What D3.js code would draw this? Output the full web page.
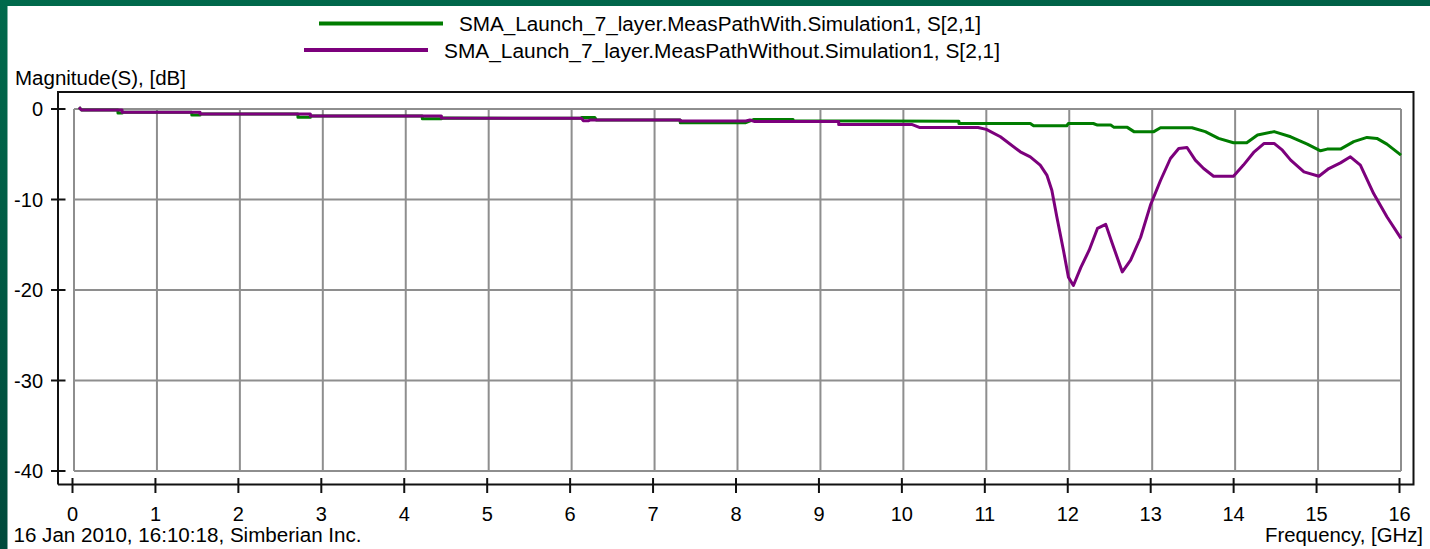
<!DOCTYPE html>
<html>
<head>
<meta charset="utf-8">
<script src="https://cdn.jsdelivr.net/npm/d3@7"></script>
<style>
  body { margin: 0; overflow: hidden; }
  text { font-family: "Liberation Sans", Arial, sans-serif; fill: #000; }
</style>
</head>
<body>
<div id="chart"></div>
<script>
// tick values
const xTicks = [0, 1, 2, 3, 4, 5, 6, 7, 8, 9, 10, 11, 12, 13, 14, 15, 16];
const yTicks = [0, -10, -20, -30, -40];

// [frequency GHz, magnitude dB]
const pathWith = [
  [0.06, 0.2], [0.09, -0.1], [0.53, -0.1], [0.53, -0.45], [0.58, -0.45], [0.58, -0.37],
  [1.42, -0.37], [1.42, -0.65], [1.52, -0.65], [1.52, -0.55], [2.7, -0.55], [2.7, -0.92],
  [2.85, -0.92], [2.85, -0.78], [4.2, -0.78], [4.2, -1.07], [4.43, -1.07], [4.43, -1.0],
  [6.12, -1.03], [6.12, -0.95], [6.28, -0.95], [6.3, -1.22], [7.31, -1.22], [7.31, -1.51],
  [8.1, -1.51], [8.2, -1.15], [8.67, -1.15], [8.67, -1.3], [10.67, -1.35], [10.67, -1.6],
  [11.53, -1.6], [11.57, -1.85], [11.97, -1.85], [11.99, -1.6], [12.29, -1.6], [12.34, -1.78],
  [12.5, -1.78], [12.54, -2.03], [12.7, -2.03], [12.78, -2.5], [13.02, -2.5], [13.1, -2.07],
  [13.48, -2.07], [13.64, -2.5], [13.8, -3.25], [13.98, -3.73], [14.14, -3.73], [14.27, -2.88],
  [14.47, -2.5], [14.67, -3.07], [14.87, -3.88], [15.03, -4.62], [15.11, -4.43], [15.27, -4.43],
  [15.43, -3.6], [15.59, -3.14], [15.71, -3.25], [15.83, -3.88], [16.0, -5.1]
];

const pathWithout = [
  [0.06, 0.2], [0.09, -0.1], [0.58, -0.1], [0.58, -0.37], [1.52, -0.37], [1.52, -0.55],
  [2.85, -0.55], [2.85, -0.78], [4.43, -0.78], [4.43, -1.0], [6.12, -1.03], [6.14, -1.3],
  [6.2, -1.3], [6.22, -1.22], [7.31, -1.22], [7.31, -1.32], [8.1, -1.32], [8.15, -1.22],
  [8.2, -1.37], [9.22, -1.37], [9.22, -1.7], [10.1, -1.7], [10.2, -2.05], [10.9, -2.05],
  [11.0, -2.25], [11.17, -3.07], [11.41, -4.73], [11.53, -5.28], [11.65, -6.2], [11.73, -7.3],
  [11.79, -8.98], [11.85, -11.9], [11.93, -15.6], [11.99, -18.6], [12.05, -19.5], [12.14, -17.5],
  [12.24, -15.6], [12.34, -13.2], [12.44, -12.75], [12.52, -14.9], [12.64, -18.0], [12.74, -16.7],
  [12.86, -14.2], [12.98, -10.6], [13.1, -7.9], [13.22, -5.47], [13.32, -4.36], [13.42, -4.25],
  [13.52, -5.65], [13.62, -6.58], [13.74, -7.43], [13.98, -7.43], [14.1, -6.2], [14.23, -4.73],
  [14.35, -3.8], [14.47, -3.8], [14.57, -4.55], [14.67, -5.65], [14.83, -6.95], [15.01, -7.43],
  [15.13, -6.58], [15.27, -5.95], [15.39, -5.28], [15.51, -6.2], [15.67, -9.35], [15.83, -11.9],
  [16.0, -14.3]
];

const seriesNames = [
  "SMA_Launch_7_layer.MeasPathWith.Simulation1, S[2,1]",
  "SMA_Launch_7_layer.MeasPathWithout.Simulation1, S[2,1]"
];
const seriesColors = ["#007c00", "#7c007c"];

const width = 1430, height = 549;

const svg = d3.select("#chart").append("svg")
  .attr("width", width)
  .attr("height", height);

// green window backdrop
const grad = svg.append("defs").append("linearGradient")
  .attr("id", "bg").attr("x1", "0").attr("y1", "0").attr("x2", "0.3").attr("y2", "1");
grad.append("stop").attr("offset", "0%").attr("stop-color", "#006a4c");
grad.append("stop").attr("offset", "100%").attr("stop-color", "#00473a");

svg.append("rect").attr("width", width).attr("height", height).attr("fill", "url(#bg)");
svg.append("rect").attr("x", 7.5).attr("y", 6).attr("width", width).attr("height", height).attr("fill", "#fff");

const x = d3.scaleLinear().domain([0, 16]).range([74, 1401]);
const y = d3.scaleLinear().domain([-40, 0]).range([471, 109]);

// grid
const grid = svg.append("g").attr("stroke", "#8e8e8e").attr("stroke-width", 2);
grid.selectAll(".gx").data(xTicks).enter().append("line")
  .attr("x1", d => x(d)).attr("x2", d => x(d))
  .attr("y1", y(0)).attr("y2", y(-40));
grid.selectAll(".gy").data(yTicks).enter().append("line")
  .attr("x1", x(0)).attr("x2", x(16))
  .attr("y1", d => y(d)).attr("y2", d => y(d));

// frame
const frame = { left: 58, top: 92, right: 1413.5, bottom: 484.5 };
svg.append("path")
  .attr("d", `M${frame.left},${frame.bottom}V${frame.top}H${frame.right}V${frame.bottom}H${frame.left}`)
  .attr("fill", "none").attr("stroke", "#111").attr("stroke-width", 2);

// y ticks
const yAx = svg.append("g");
yAx.selectAll("line").data(yTicks).enter().append("line")
  .attr("x1", 51).attr("x2", 65.5)
  .attr("y1", d => y(d)).attr("y2", d => y(d))
  .attr("stroke", "#111").attr("stroke-width", 2);
yAx.selectAll("text").data(yTicks).enter().append("text")
  .attr("x", 43).attr("y", d => y(d) + 7)
  .attr("text-anchor", "end")
  .style("font-size", "20px")
  .text(d => d);

// x ticks
const xAx = svg.append("g").attr("transform", "translate(-1.5,0)");
xAx.selectAll("line").data(xTicks).enter().append("line")
  .attr("x1", d => x(d)).attr("x2", d => x(d))
  .attr("y1", 478).attr("y2", 493)
  .attr("stroke", "#111").attr("stroke-width", 2);
xAx.selectAll("text").data(xTicks).enter().append("text")
  .attr("x", d => x(d)).attr("y", 521)
  .attr("text-anchor", "middle")
  .style("font-size", "20px")
  .text(d => d);

// curves
const line = d3.line().x(d => x(d[0])).y(d => y(d[1]));
[pathWith, pathWithout].forEach((data, i) => {
  svg.append("path")
    .datum(data)
    .attr("fill", "none")
    .attr("stroke", seriesColors[i])
    .attr("stroke-width", 3)
    .attr("stroke-linejoin", "round")
    .attr("d", line);
});

// legend
const legend = [
  { x1: 319, x2: 443, ly: 23.5, tx: 459, ty: 31, tw: 522 },
  { x1: 304, x2: 428, ly: 50, tx: 444, ty: 57.5, tw: 556 }
];
legend.forEach((l, i) => {
  svg.append("line")
    .attr("x1", l.x1).attr("x2", l.x2).attr("y1", l.ly).attr("y2", l.ly)
    .attr("stroke", seriesColors[i]).attr("stroke-width", 4);
  svg.append("text")
    .attr("x", l.tx).attr("y", l.ty)
    .attr("textLength", l.tw).attr("lengthAdjust", "spacingAndGlyphs")
    .style("font-size", "20px")
    .text(seriesNames[i]);
});

// labels
svg.append("text")
  .attr("x", 15).attr("y", 85)
  .attr("textLength", 171).attr("lengthAdjust", "spacingAndGlyphs")
  .style("font-size", "20px")
  .text("Magnitude(S), [dB]");

svg.append("text")
  .attr("x", 1423).attr("y", 542)
  .attr("text-anchor", "end")
  .attr("textLength", 158).attr("lengthAdjust", "spacingAndGlyphs")
  .style("font-size", "20px")
  .text("Frequency, [GHz]");

svg.append("text")
  .attr("x", 13.5).attr("y", 542)
  .attr("textLength", 348).attr("lengthAdjust", "spacingAndGlyphs")
  .style("font-size", "20px")
  .text("16 Jan 2010, 16:10:18, Simberian Inc.");
</script>
</body>
</html>
